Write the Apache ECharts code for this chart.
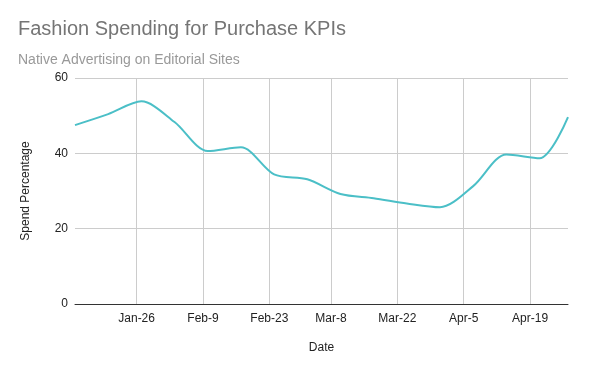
<!DOCTYPE html>
<html>
<head>
<meta charset="utf-8">
<script src="https://cdn.jsdelivr.net/npm/echarts@6/dist/echarts.min.js"></script>
<style>html,body{margin:0;padding:0;background:#fff;}#c{width:600px;height:371px;}</style>
</head>
<body>
<div id="c"></div>
<script>
// Daily category labels (axis runs day by day)
const months = ['Jan', 'Feb', 'Mar', 'Apr'];
const monthDays = [31, 28, 31, 30];
const startMonth = 0, startDay = 13, endMonth = 3, endDay = 27;
const dayCategories = [];
for (let m = startMonth; m <= endMonth; m++) {
  const first = m === startMonth ? startDay : 1;
  const last = m === endMonth ? endDay : monthDays[m];
  for (let d = first; d <= last; d++) dayCategories.push(months[m] + '-' + d);
}
// Weekly data points
const dates = ['Jan-13', 'Jan-20', 'Jan-27', 'Feb-3', 'Feb-10', 'Feb-17', 'Feb-24', 'Mar-3',
  'Mar-10', 'Mar-17', 'Mar-24', 'Mar-31', 'Apr-7', 'Apr-14', 'Apr-21', 'Apr-27'];
const spend = [47.5, 50.4, 53.8, 48.3, 40.6, 41.6, 34.4, 33.1, 29.2, 28.1, 26.7, 25.7, 31.3, 39.7, 38.7, 49.6];
// Tick labels shown on the date axis
const tickLabels = ['Jan-26', 'Feb-9', 'Feb-23', 'Mar-8', 'Mar-22', 'Apr-5', 'Apr-19'];
const yTicks = [0, 20, 40, 60];

const font = '"Liberation Sans", Arial, sans-serif';
const isTick = (idx) => tickLabels.indexOf(dayCategories[idx]) >= 0;

const chart = echarts.init(document.getElementById('c'), null, {renderer: 'canvas'});
chart.setOption({
  animation: false,
  backgroundColor: '#fff',
  title: [
    {text: 'Fashion Spending for Purchase KPIs', left: 13, top: 14,
     textStyle: {fontFamily: font, fontSize: 20, fontWeight: 'normal', color: '#757575'}},
    {text: 'Native Advertising on Editorial Sites', left: 13, top: 48,
     textStyle: {fontFamily: font, fontSize: 14, fontWeight: 'normal', color: '#999999'}}
  ],
  grid: {left: 75, right: 32, top: 78, bottom: 67, containLabel: false},
  xAxis: {
    type: 'category',
    data: dayCategories,
    boundaryGap: false,
    name: 'Date', nameLocation: 'middle', nameGap: 38,
    nameTextStyle: {fontFamily: font, fontSize: 12, color: '#222'},
    axisLine: {show: true, lineStyle: {color: '#333', width: 1}},
    axisTick: {show: false},
    axisLabel: {interval: (i) => isTick(i), fontFamily: font, fontSize: 12, color: '#222', margin: 9},
    splitLine: {show: true, interval: (i) => isTick(i), lineStyle: {color: '#cccccc', width: 1}}
  },
  yAxis: {
    type: 'value', min: yTicks[0], max: yTicks[yTicks.length - 1], interval: 20,
    name: 'Spend Percentage', nameLocation: 'middle', nameGap: 43,
    nameTextStyle: {fontFamily: font, fontSize: 12, color: '#222'},
    axisLine: {show: false}, axisTick: {show: false},
    axisLabel: {fontFamily: font, fontSize: 12, color: '#222', margin: 7},
    splitLine: {show: true, lineStyle: {color: '#cccccc', width: 1}}
  },
  series: [{
    type: 'line',
    data: dates.map((d, i) => [d, spend[i]]),
    smooth: 0.3,
    showSymbol: false,
    symbol: 'none',
    lineStyle: {color: '#4bbfc7', width: 2},
    itemStyle: {color: '#4bbfc7'}
  }]
});
</script>
</body>
</html>
